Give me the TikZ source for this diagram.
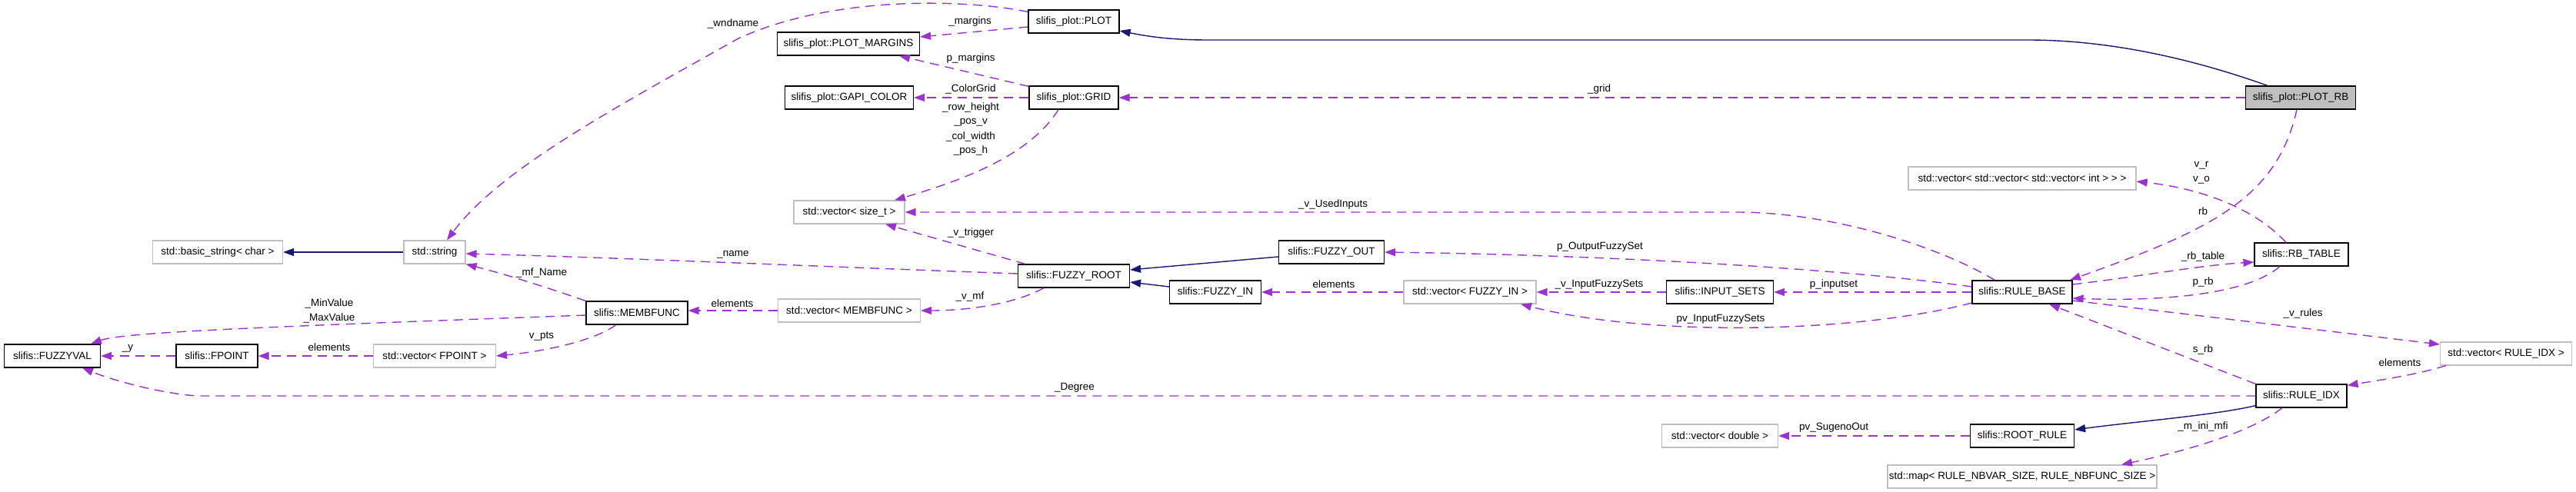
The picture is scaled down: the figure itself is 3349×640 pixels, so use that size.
\documentclass[tikz,border=0pt]{standalone}
\usepackage{fontspec}
\setmainfont{Liberation Sans}
\usetikzlibrary{arrows.meta,calc}
\definecolor{edgepurple}{HTML}{9A32CD}
\definecolor{edgenavy}{HTML}{191970}
\definecolor{boxgray}{HTML}{BFBFBF}
\begin{document}
\begin{tikzpicture}[x=0.5pt,y=-0.5pt,font=\fontsize{6.75}{8}\selectfont,
  cls/.style={draw=black, line width=0.6pt, minimum height=15pt, inner sep=0pt, fill=white},
  ext/.style={cls, draw=boxgray},
  focus/.style={cls, fill=boxgray},
  dep/.style={color=edgepurple, line width=0.7pt, dash pattern=on 6pt off 4pt, -{Triangle[length=7pt,width=5pt]}},
  inh/.style={color=edgenavy, line width=0.7pt, -{Triangle[length=7pt,width=5pt]}},
  lbl/.style={inner sep=0pt}]
\fill[white] (0,0) rectangle (3349,640);
\useasboundingbox (0,0) rectangle (3349,640);
% nodes
\node[ext, minimum width=84.5pt] (basicstr) at (283,328) {std::basic\_string< char >};
\node[ext, minimum width=40pt] (string) at (565,328) {std::string};
\node[cls, minimum width=66pt] (membfunc) at (828,407) {slifis::MEMBFUNC};
\node[cls, minimum width=62.5pt] (fuzzyval) at (68,463) {slifis::FUZZYVAL};
\node[cls, minimum width=53pt] (fpoint) at (282,463) {slifis::FPOINT};
\node[ext, minimum width=79.5pt] (vecfpoint) at (565,463) {std::vector< FPOINT >};
\node[cls, minimum width=59pt] (plot) at (1396,28) {slifis\_plot::PLOT};
\node[cls, minimum width=92.5pt] (margins) at (1103,57) {slifis\_plot::PLOT\_MARGINS};
\node[cls, minimum width=83.5pt] (gapi) at (1104,127) {slifis\_plot::GAPI\_COLOR};
\node[cls, minimum width=58pt] (grid) at (1396,127) {slifis\_plot::GRID};
\node[ext, minimum width=72pt] (vecsize) at (1104,276) {std::vector< size\_t >};
\node[cls, minimum width=72.5pt] (fuzzyroot) at (1396,359) {slifis::FUZZY\_ROOT};
\node[ext, minimum width=92.5pt] (vecmemb) at (1104,404) {std::vector< MEMBFUNC >};
\node[cls, minimum width=59.5pt] (fuzzyin) at (1580,380) {slifis::FUZZY\_IN};
\node[cls, minimum width=68.5pt] (fuzzyout) at (1731,328) {slifis::FUZZY\_OUT};
\node[ext, minimum width=86pt] (vecfuzzyin) at (1911,380) {std::vector< FUZZY\_IN >};
\node[cls, minimum width=69.5pt] (inputsets) at (2236,380) {slifis::INPUT\_SETS};
\node[ext, minimum width=75.5pt] (vecdouble) at (2236,567) {std::vector< double >};
\node[ext, minimum width=175pt] (map) at (2629,620) {std::map< RULE\_NBVAR\_SIZE, RULE\_NBFUNC\_SIZE >};
\node[focus, minimum width=71.5pt] (plotrb) at (2991,127) {slifis\_plot::PLOT\_RB};
\node[ext, minimum width=148pt] (vecvec) at (2629,232) {std::vector< std::vector< std::vector< int > > >};
\node[cls, minimum width=61pt] (rbtable) at (2992,331) {slifis::RB\_TABLE};
\node[cls, minimum width=65pt] (rulebase) at (2629,380) {slifis::RULE\_BASE};
\node[cls, minimum width=59pt] (ruleidx) at (2992,515) {slifis::RULE\_IDX};
\node[cls, minimum width=67.5pt] (rootrule) at (2629,567) {slifis::ROOT\_RULE};
\node[ext, minimum width=85.5pt] (vecruleidx) at (3258,460) {std::vector< RULE\_IDX >};
\coordinate (degbend) at (262,515);
\coordinate (usedbend) at (2258,276);
\coordinate (inhbendA) at (2636,52);
\coordinate (inhbendB) at (1570,52);
% inheritance edges
\draw[inh] (string.west) -- (string.west -| basicstr.east);
\draw[inh] ($(plotrb.north)+(-43,0)$) .. controls (2860,80) and (2750,52) .. (inhbendA) -- (inhbendB) .. controls (1520,52) and (1490,47) .. ($(plot.east)+(0,12)$);
\draw[inh] ($(fuzzyout.west)+(0,6)$) -- ($(fuzzyroot.east)+(0,-8)$);
\draw[inh] ($(fuzzyin.west)+(0,-7)$) -- ($(fuzzyroot.east)+(0,8)$);
\draw[inh] ($(ruleidx.south west)+(0,-3)$) .. controls (2880,540) and (2780,548) .. ($(rootrule.east)+(0,-8)$);
% usage edges
\draw[dep] (membfunc.north west) .. controls (700,370) and (650,355) .. (string.south east);
\draw[dep] ($(membfunc.west)+(0,3)$) .. controls (350,425) and (160,432) .. ($(fuzzyval.north)+(50,0)$);
\draw[dep] (fpoint.west) -- (fuzzyval.east);
\draw[dep] (vecfpoint.west) -- (fpoint.east);
\draw[dep] ($(membfunc.south)+(-27,0)$) .. controls (770,445) and (700,458) .. (vecfpoint.east);
\draw[dep] (ruleidx.west) -- (degbend) .. controls (230,515) and (160,500) .. ($(fuzzyval.south)+(39,0)$);
\draw[dep] ($(plot.north west)+(0,3)$) .. controls (1250,-2) and (1080,-5) .. (960,50) .. controls (800,140) and (650,220) .. ($(string.north)+(16,0)$);
\draw[dep] ($(plot.west)+(0,7)$) -- ($(margins.east)+(0,-9)$);
\draw[dep] ($(grid.north west)+(0,1)$) -- ($(margins.south)+(66,0)$);
\draw[dep] (grid.west) -- (gapi.east);
\draw[dep] ($(grid.south)+(-20,0)$) .. controls (1340,200) and (1260,232) .. ($(vecsize.north)+(59,0)$);
\draw[dep] (plotrb.west) -- (grid.east);
\draw[dep] ($(plotrb.south)+(-5,0)$) .. controls (2960,260) and (2870,300) .. ($(rulebase.north)+(62,0)$);
\draw[dep] ($(rbtable.north)+(-20,0)$) .. controls (2930,270) and (2860,245) .. ($(vecvec.east)+(0,4)$);
\draw[dep] ($(rulebase.east)+(0,-10)$) .. controls (2780,360) and (2860,345) .. ($(rbtable.west)+(0,10)$);
\draw[dep] ($(rbtable.south)+(-28,0)$) .. controls (2920,385) and (2800,392) .. ($(rulebase.east)+(0,8)$);
\draw[dep] ($(rulebase.east)+(0,11)$) -- ($(vecruleidx.west)+(0,-12)$);
\draw[dep] (ruleidx.north west) -- ($(rulebase.south)+(35,0)$);
\draw[dep] ($(vecruleidx.south west)+(8,0)$) .. controls (3140,488) and (3090,495) .. ($(ruleidx.north east)+(0,2)$);
\draw[dep] ($(ruleidx.south)+(-25,0)$) .. controls (2930,560) and (2850,585) .. ($(map.north)+(129,0)$);
\draw[dep] (rootrule.west) -- (vecdouble.east);
\draw[dep] (rulebase.west) -- (inputsets.east);
\draw[dep] (inputsets.west) -- (vecfuzzyin.east);
\draw[dep] (vecfuzzyin.west) -- (fuzzyin.east);
\draw[dep] ($(rulebase.west)+(0,14)$) .. controls (2420,432) and (2150,440) .. ($(vecfuzzyin.south)+(66,0)$);
\draw[dep] ($(rulebase.west)+(0,-7)$) .. controls (2400,350) and (2100,332) .. (fuzzyout.east);
\draw[dep] ($(rulebase.north west)+(30,0)$) .. controls (2520,320) and (2380,276) .. (usedbend) -- (vecsize.east);
\draw[dep] ($(fuzzyroot.north)+(-63,0)$) -- ($(vecsize.south)+(47,0)$);
\draw[dep] ($(fuzzyroot.west)+(0,-3)$) .. controls (1100,348) and (800,335) .. ($(string.east)+(0,2)$);
\draw[dep] (vecmemb.west) -- (vecmemb.west -| membfunc.east);
\draw[dep] ($(fuzzyroot.south)+(-39,0)$) .. controls (1320,395) and (1260,404) .. (vecmemb.east);
% labels
\node[lbl] (lmfname) at (704,355) {\_mf\_Name};
\node[lbl] (lminval) at (428,395) {\_MinValue};
\node[lbl] (lmaxval) at (428,414) {\_MaxValue};
\node[lbl] (ly) at (166,453) {\_y};
\node[lbl] (lelemA) at (428,452) {elements};
\node[lbl] (lvpts) at (704,438) {v\_pts};
\node[lbl] (ldegree) at (1397,504) {\_Degree};
\node[lbl] (lwndname) at (953,31) {\_wndname};
\node[lbl] (lmargins) at (1261,28) {\_margins};
\node[lbl] (lpmargins) at (1262,76) {p\_margins};
\node[lbl] (lcolorgrid) at (1262,116) {\_ColorGrid};
\node[lbl] (lrowh) at (1262,140) {\_row\_height};
\node[lbl] (lposv) at (1262,159) {\_pos\_v};
\node[lbl] (lcolw) at (1262,178) {\_col\_width};
\node[lbl] (lposh) at (1262,196) {\_pos\_h};
\node[lbl] (lgrid) at (2079,116) {\_grid};
\node[lbl] (lrb) at (2864,275) {rb};
\node[lbl] (lvr) at (2862,215) {v\_r};
\node[lbl] (lvo) at (2862,234) {v\_o};
\node[lbl] (lrbtable) at (2864,334) {\_rb\_table};
\node[lbl] (lprb) at (2864,367) {p\_rb};
\node[lbl] (lvrules) at (2994,408) {\_v\_rules};
\node[lbl] (lsrb) at (2864,455) {s\_rb};
\node[lbl] (lelemC) at (3120,472) {elements};
\node[lbl] (lmini) at (2864,555) {\_m\_ini\_mfi};
\node[lbl] (lsugeno) at (2384,556) {pv\_SugenoOut};
\node[lbl] (lpinput) at (2384,370) {p\_inputset};
\node[lbl] (lvinput) at (2079,370) {\_v\_InputFuzzySets};
\node[lbl] (lelemB) at (1734,370) {elements};
\node[lbl] (lpvinput) at (2237,415) {pv\_InputFuzzySets};
\node[lbl] (lpoutput) at (2080,321) {p\_OutputFuzzySet};
\node[lbl] (lvused) at (1733,266) {\_v\_UsedInputs};
\node[lbl] (lvtrigger) at (1262,303) {\_v\_trigger};
\node[lbl] (lname) at (953,331) {\_name};
\node[lbl] (lelemD) at (952,395) {elements};
\node[lbl] (lvmf) at (1261,386) {\_v\_mf};
\end{tikzpicture}
\end{document}
